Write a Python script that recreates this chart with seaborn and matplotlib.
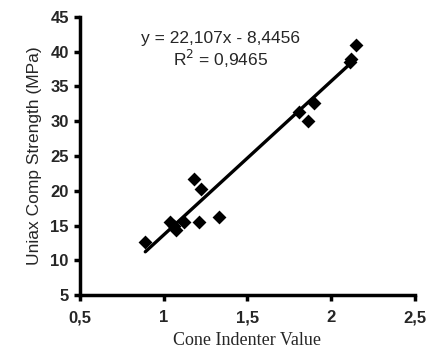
import matplotlib
matplotlib.use("Agg")
import matplotlib.pyplot as plt
import seaborn as sns
import numpy as np
import pandas as pd

cone_value = [0.89, 1.04, 1.06, 1.075, 1.12, 1.18, 1.22, 1.21, 1.33, 1.81, 1.86, 1.90, 2.11, 2.12, 2.15]
strength = [12.6, 15.5, 15.0, 14.3, 15.5, 21.7, 20.2, 15.5, 16.2, 31.3, 30.1, 32.6, 38.5, 39.0, 41.0]
slope = 22.107
intercept = -8.4456
eq_text = "y = 22,107x - 8,4456"
r2_text = "R$^2$ = 0,9465"
x_ticks = [0.5, 1.0, 1.5, 2.0, 2.5]
x_tick_labels = ["0,5", "1", "1,5", "2", "2,5"]
y_ticks = [5, 10, 15, 20, 25, 30, 35, 40, 45]

sns.set_theme(style="white")
plt.rcParams['font.family'] = ['Liberation Sans', 'DejaVu Sans']

df = pd.DataFrame({"x": cone_value, "y": strength})
fit_x = np.array([min(cone_value), 2.12])
fit_df = pd.DataFrame({"x": fit_x, "y": slope * fit_x + intercept})

fig = plt.figure(figsize=(4.30, 3.53), dpi=100)
ax = fig.add_axes([0.186, 0.164, 0.779, 0.788])

sns.lineplot(data=fit_df, x="x", y="y", ax=ax, color="black", linewidth=2.4)
sns.scatterplot(data=df, x="x", y="y", ax=ax, marker="D", s=50, color="black",
                edgecolor="black", linewidth=0, zorder=3)

ax.set_xlim(0.5, 2.5)
ax.set_ylim(5, 45)
ax.set_xticks(x_ticks)
ax.set_xticklabels(x_tick_labels)
ax.set_yticks(y_ticks)
for s in ["top", "right"]:
    ax.spines[s].set_visible(False)
for s in ["left", "bottom"]:
    ax.spines[s].set_linewidth(2.5)
    ax.spines[s].set_color("black")
ax.tick_params(axis="both", direction="out", length=4, width=2.5, color="black",
               labelsize=12, pad=4, left=True, bottom=True)
ax.tick_params(axis="x", pad=7)
for lbl in ax.get_xticklabels() + ax.get_yticklabels():
    lbl.set_fontweight("bold")

ax.set_xlabel("Cone Indenter Value", family=["Liberation Serif", "DejaVu Serif"], fontsize=13, labelpad=5)
ax.set_ylabel("Uniax Comp Strength (MPa)", fontsize=12.5, labelpad=6)

ax.text(1.34, 41.9, eq_text, ha="center", va="center", fontsize=12.5)
ax.text(1.34, 39.0, r2_text, ha="center", va="center", fontsize=12.5)

fig.savefig("out.png", dpi=100, facecolor="white")
